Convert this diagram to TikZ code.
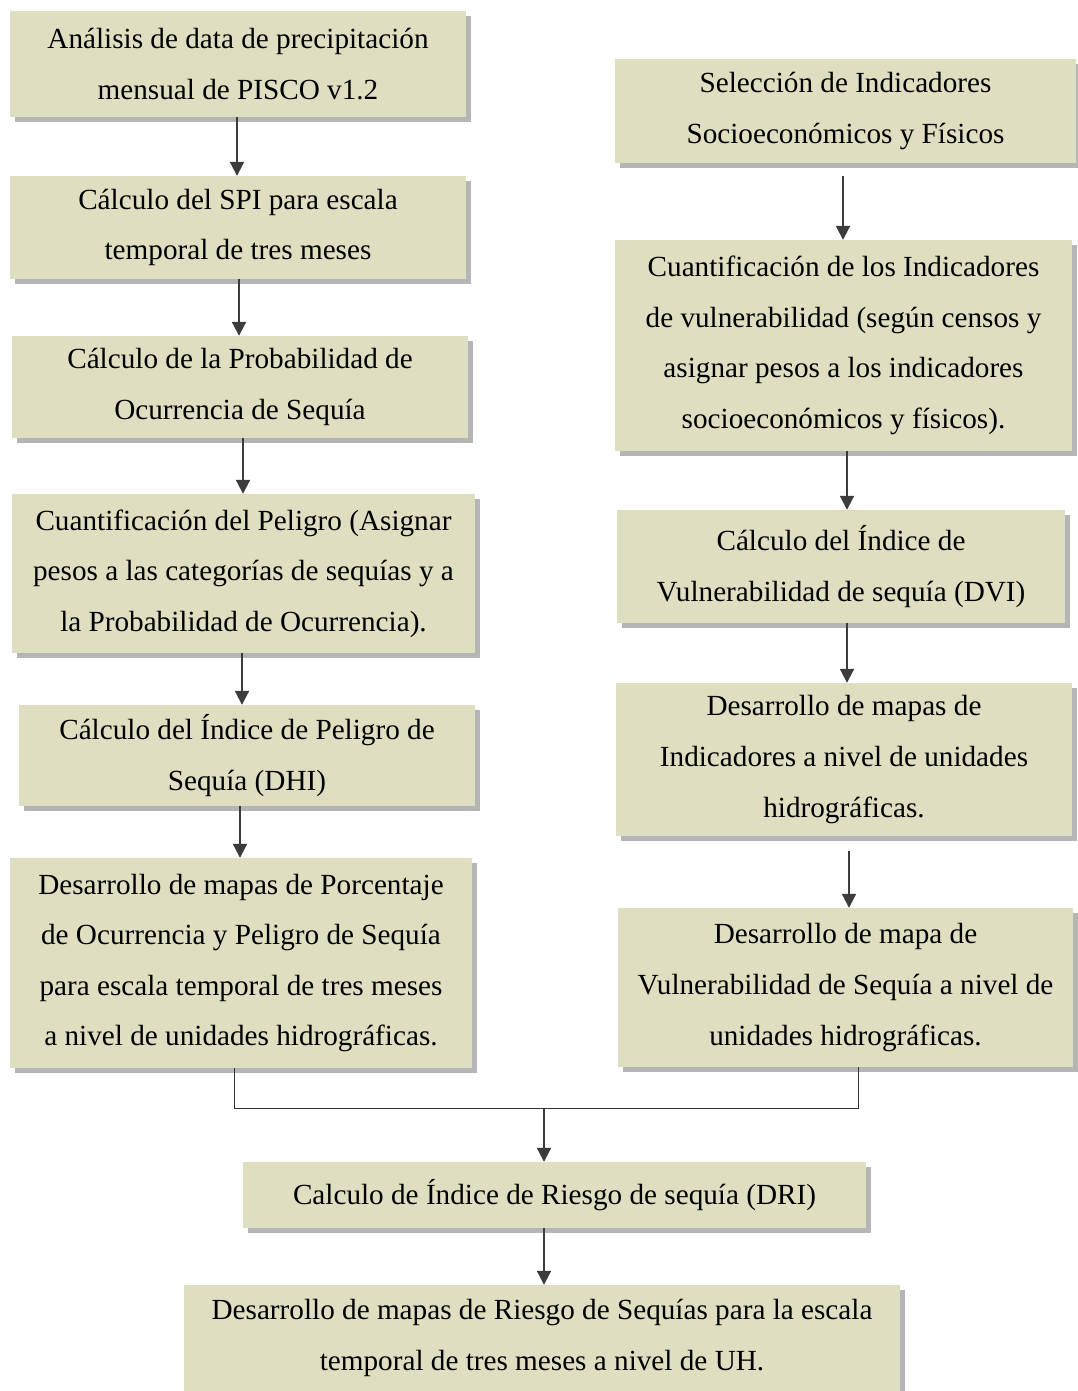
\documentclass[tikz,border=0pt]{standalone}
\usepackage{fontspec}
\setmainfont{Liberation Serif}
\usetikzlibrary{shadows,arrows.meta}
\definecolor{boxfill}{HTML}{DFDEC0}
\definecolor{shadowgray}{HTML}{B5B5B5}
\definecolor{arrowgray}{HTML}{3C3C3C}
\begin{document}
\begin{tikzpicture}[x=1pt,y=-1pt,
  box/.style={fill=boxfill, draw=none, inner sep=0pt, align=center,
    font=\fontsize{29.2}{50.6}\selectfont,
    drop shadow={shadow xshift=5pt, shadow yshift=-5pt, fill=shadowgray, opacity=1}},
  arr/.style={draw=arrowgray, line width=2pt, -{Triangle[length=14pt,width=14pt]}},
  joinline/.style={draw=black!80, line width=0.9pt}]
\useasboundingbox (0,0) rectangle (1078,1391);
\fill[white] (0,0) rectangle (1078,1391);

\node[box, minimum width=456pt, minimum height=106pt] (B1) at (238,64)
  {Análisis de data de precipitación\\mensual de PISCO v1.2};
\node[box, minimum width=456pt, minimum height=103pt] (B2) at (238,227.5)
  {Cálculo del SPI para escala\\temporal de tres meses};
\node[box, minimum width=456pt, minimum height=102pt] (B3) at (240,387)
  {Cálculo de la Probabilidad de\\Ocurrencia de Sequía};
\node[box, minimum width=463pt, minimum height=159pt] (B4) at (243.5,573.5)
  {Cuantificación del Peligro (Asignar\\pesos a las categorías de sequías y a\\la Probabilidad de Ocurrencia).};
\node[box, minimum width=456pt, minimum height=101pt] (B5) at (247,755.5)
  {Cálculo del Índice de Peligro de\\Sequía (DHI)};
\node[box, minimum width=462pt, minimum height=210pt] (B6) at (241,963)
  {Desarrollo de mapas de Porcentaje\\de Ocurrencia y Peligro de Sequía\\para escala temporal de tres meses\\a nivel de unidades hidrográficas.};

\node[box, minimum width=461pt, minimum height=104pt] (R1) at (845.5,111)
  {Selección de Indicadores\\Socioeconómicos y Físicos};
\node[box, minimum width=457pt, minimum height=211pt] (R2) at (843.5,345.5)
  {Cuantificación de los Indicadores\\de vulnerabilidad (según censos y\\asignar pesos a los indicadores\\socioeconómicos y físicos).};
\node[box, minimum width=448pt, minimum height=113pt] (R3) at (841,566.5)
  {Cálculo del Índice de\\Vulnerabilidad de sequía (DVI)};
\node[box, minimum width=456pt, minimum height=153pt] (R4) at (844,759.5)
  {Desarrollo de mapas de\\Indicadores a nivel de unidades\\hidrográficas.};
\node[box, minimum width=455pt, minimum height=159pt] (R5) at (845.5,987.5)
  {Desarrollo de mapa de\\Vulnerabilidad de Sequía a nivel de\\unidades hidrográficas.};

\node[box, minimum width=623pt, minimum height=66pt] (D1) at (554.5,1195)
  {Calculo de Índice de Riesgo de sequía (DRI)};
\node[box, minimum width=716pt, minimum height=106pt] (D2) at (542,1338)
  {Desarrollo de mapas de Riesgo de Sequías para la escala\\temporal de tres meses a nivel de UH.};

% left column arrows
\draw[arr] (B1.south -| 237,0) -- (B2.north -| 237,0);
\draw[arr] (B2.south -| 239,0) -- (B3.north -| 239,0);
\draw[arr] (B3.south -| 243,0) -- (B4.north -| 243,0);
\draw[arr] (B4.south -| 242,0) -- (B5.north -| 242,0);
\draw[arr] (B5.south -| 240,0) -- (B6.north -| 240,0);
% right column arrows
\coordinate (r1s) at (843,176);
\draw[arr] (r1s) -- (R2.north -| r1s);
\draw[arr] (R2.south -| 847,0) -- (R3.north -| 847,0);
\draw[arr] (R3.south -| 847,0) -- (R4.north -| 847,0);
\coordinate (r4s) at (849,851);
\draw[arr] (r4s) -- (R5.north -| r4s);
% merge
\coordinate (jl) at (234,1108);
\coordinate (jr) at (858,1108);
\coordinate (jm) at (544,1108);
\draw[joinline] (B6.south -| jl) -- (jl) -- (jr) -- (R5.south -| jr);
\draw[arr] (jm) -- (D1.north -| jm);
\draw[arr] (D1.south -| 544,0) -- (D2.north -| 544,0);
\end{tikzpicture}
\end{document}
